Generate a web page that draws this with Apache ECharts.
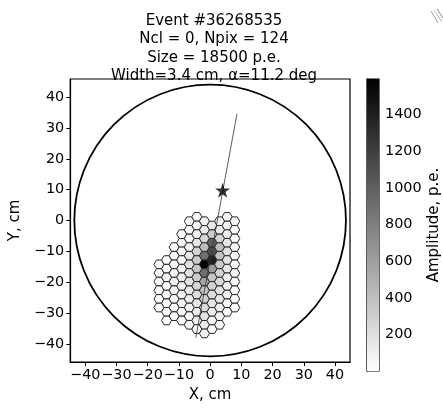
<!DOCTYPE html>
<html>
<head>
<meta charset="utf-8">
<script src="https://cdn.jsdelivr.net/npm/echarts@6/dist/echarts.min.js"></script>
<style>
html, body { margin: 0; padding: 0; background: #fff; }
#chart { width: 443px; height: 408px; }
</style>
</head>
<body>
<div id="chart"></div>
<script>
// hex camera pixels: column index, first row index, amplitudes (p.e.) top -> bottom
const pixCols = [-7, -6, -5, -4, -3, -2, -1, 0, 1, 2, 3];
const pixFirstRow = [5, 5, 3, 2, 0, 0, 0, 1, 0, 0, 0];
const pixAmps = [
    [40, 30, 50, 35, 25, 40],
    [30, 45, 60, 50, 40, 35, 30, 25],
    [35, 40, 60, 70, 80, 60, 50, 40, 30],
    [30, 40, 50, 70, 90, 110, 100, 80, 60, 45, 35],
    [30, 40, 60, 100, 150, 190, 200, 180, 150, 120, 90, 60, 40],
    [40, 60, 100, 170, 260, 330, 360, 320, 260, 200, 160, 120, 80, 50],
    [70, 130, 250, 420, 900, 1590, 900, 560, 380, 300, 240, 170, 110, 60],
    [150, 320, 1000, 1120, 1400, 620, 360, 280, 210, 160, 110, 70, 40],
    [80, 140, 260, 420, 380, 340, 290, 240, 190, 150, 110, 70, 40],
    [40, 70, 110, 160, 190, 180, 150, 120, 90, 70, 50, 35],
    [30, 35, 45, 60, 70, 60, 50, 40, 35, 30, 25]
];
const titleLines = ['Event #36268535', 'Ncl = 0, Npix = 124', 'Size = 18500 p.e.', 'Width=3.4 cm, \u03b1=11.2 deg'];
const axisTicks = [-40, -30, -20, -10, 0, 10, 20, 30, 40];
const cbTicks = [200, 400, 600, 800, 1000, 1200, 1400];
const ampMin = 0;
const ampMax = 1595;
const cameraRadius = 43.5;
const starX = [4.0];
const starY = [9.8];
const hillasX = [8.6, -4.6];
const hillasY = [34.6, -38.0];

// camera grid geometry (flat-top hexagons)
const pitch = 2.8;
const colStep = pitch * Math.sqrt(3) / 2;
const colX0 = 0.6;
const evenY0 = 1.17, oddY0 = -0.23;
const hexR = pitch / Math.sqrt(3);

const hexData = [];
pixCols.forEach((c, i) => {
    const x = colX0 + c * colStep;
    const y0 = Math.abs(c) % 2 === 1 ? oddY0 : evenY0;
    pixAmps[i].forEach((a, j) => {
        hexData.push([x, y0 - (pixFirstRow[i] + j) * pitch, a]);
    });
});

const FONT = 'DejaVu Sans';
const minus = v => String(v).replace('-', '\u2212');

var myChart = echarts.init(document.getElementById('chart'));
const option = {
    animation: false,
    title: {
        text: titleLines.join('\n'),
        left: 209,
        top: 7,
        textAlign: 'center',
        textStyle: { fontFamily: FONT, fontSize: 15, fontWeight: 'normal', color: '#000', lineHeight: 18.3 }
    },
    grid: [
        { left: 68, top: 79, width: 282, height: 289, show: true, borderColor: '#000', borderWidth: 1.2, backgroundColor: 'transparent' },
        { left: 367, top: 79, width: 15, height: 292, show: true, borderColor: '#000', borderWidth: 1.2, backgroundColor: 'transparent' }
    ],
    xAxis: [
        {
            type: 'value', gridIndex: 0, min: -44.8, max: 44.8,
            name: 'X, cm', nameLocation: 'middle', nameGap: 26,
            nameTextStyle: { fontFamily: FONT, fontSize: 15, color: '#000' },
            axisLine: { show: true, onZero: false, lineStyle: { color: '#000', width: 1.2 } },
            axisTick: { show: true, length: 4, customValues: axisTicks, lineStyle: { color: '#000' } },
            axisLabel: { customValues: axisTicks, formatter: minus, margin: 6, fontFamily: FONT, fontSize: 14.4, color: '#000' },
            splitLine: { show: false }
        },
        { type: 'value', gridIndex: 1, min: 0, max: 1, show: false }
    ],
    yAxis: [
        {
            type: 'value', gridIndex: 0, min: -45.9, max: 45.9,
            name: 'Y, cm', nameLocation: 'middle', nameGap: 46,
            nameTextStyle: { fontFamily: FONT, fontSize: 15, color: '#000' },
            axisLine: { show: true, onZero: false, lineStyle: { color: '#000', width: 1.2 } },
            axisTick: { show: true, length: 4, customValues: axisTicks, lineStyle: { color: '#000' } },
            axisLabel: { customValues: axisTicks, formatter: minus, margin: 6, fontFamily: FONT, fontSize: 14.4, color: '#000' },
            splitLine: { show: false }
        },
        {
            type: 'value', gridIndex: 1, min: ampMin, max: ampMax, position: 'right',
            name: 'Amplitude, p.e.', nameLocation: 'middle', nameGap: 48, nameRotate: 90,
            nameTextStyle: { fontFamily: FONT, fontSize: 15, color: '#000' },
            axisLine: { show: true, lineStyle: { color: '#000', width: 1.2 } },
            axisTick: { show: true, length: 4, customValues: cbTicks, lineStyle: { color: '#000' } },
            axisLabel: { customValues: cbTicks, formatter: v => String(v), margin: 6, fontFamily: FONT, fontSize: 14.4, color: '#000' },
            splitLine: { show: false }
        }
    ],
    visualMap: {
        type: 'continuous', show: false, seriesIndex: 1, dimension: 2,
        min: ampMin, max: ampMax,
        inRange: { color: ['#ffffff', '#000000'] }
    },
    series: [
        {
            // camera boundary
            type: 'custom', xAxisIndex: 0, yAxisIndex: 0, z: 2,
            data: [[0, 0, cameraRadius]],
            renderItem: (params, api) => {
                const c = api.coord([api.value(0), api.value(1)]);
                const r = api.size([api.value(2), 0])[0];
                return { type: 'circle', shape: { cx: c[0], cy: c[1], r: r }, style: { fill: 'none', stroke: '#000', lineWidth: 1.8 } };
            }
        },
        {
            // pixels
            type: 'custom', xAxisIndex: 0, yAxisIndex: 0, z: 3,
            data: hexData,
            renderItem: (params, api) => {
                const x = api.value(0), y = api.value(1);
                const pts = [];
                for (let k = 0; k < 6; k++) {
                    const a = Math.PI / 3 * k;
                    pts.push(api.coord([x + hexR * Math.cos(a), y + hexR * Math.sin(a)]));
                }
                return { type: 'polygon', shape: { points: pts }, style: { fill: api.visual('color'), stroke: '#2a2a2a', lineWidth: 1 } };
            }
        },
        {
            // hillas axis
            type: 'line', xAxisIndex: 0, yAxisIndex: 0, z: 4,
            data: hillasX.map((x, i) => [x, hillasY[i]]),
            symbol: 'none',
            lineStyle: { color: '#333', width: 0.8 }
        },
        {
            type: 'scatter', xAxisIndex: 0, yAxisIndex: 0, z: 5,
            data: starX.map((x, i) => [x, starY[i]]),
            symbol: 'path://M50,0 L61.2,34.5 L97.6,34.5 L68.2,55.9 L79.4,90.5 L50,69.1 L20.6,90.5 L31.8,55.9 L2.4,34.5 L38.8,34.5 Z',
            symbolSize: 15,
            itemStyle: { color: '#000' }
        },
        {
            // colorbar
            type: 'custom', xAxisIndex: 1, yAxisIndex: 1, z: 2,
            data: [[0, ampMin, 1, ampMax]],
            renderItem: (params, api) => {
                const p0 = api.coord([api.value(0), api.value(1)]);
                const p1 = api.coord([api.value(2), api.value(3)]);
                return {
                    type: 'rect',
                    shape: { x: p0[0], y: p1[1], width: p1[0] - p0[0], height: p0[1] - p1[1] },
                    style: {
                        fill: { type: 'linear', x: 0, y: 0, x2: 0, y2: 1, colorStops: [{ offset: 0, color: '#000' }, { offset: 1, color: '#fff' }] }
                    }
                };
            }
        }
    ],
    graphic: [
        { type: 'line', shape: { x1: 431, y1: 11, x2: 438, y2: 23 }, style: { stroke: '#888', lineWidth: 0.8 } },
        { type: 'line', shape: { x1: 434, y1: 10, x2: 442, y2: 22 }, style: { stroke: '#aaa', lineWidth: 0.8 } },
        { type: 'line', shape: { x1: 437, y1: 9, x2: 443, y2: 18 }, style: { stroke: '#666', lineWidth: 0.8 } }
    ]
};
myChart.setOption(option);
window.addEventListener('resize', () => {
    myChart.resize();
});
</script>
</body>
</html>
